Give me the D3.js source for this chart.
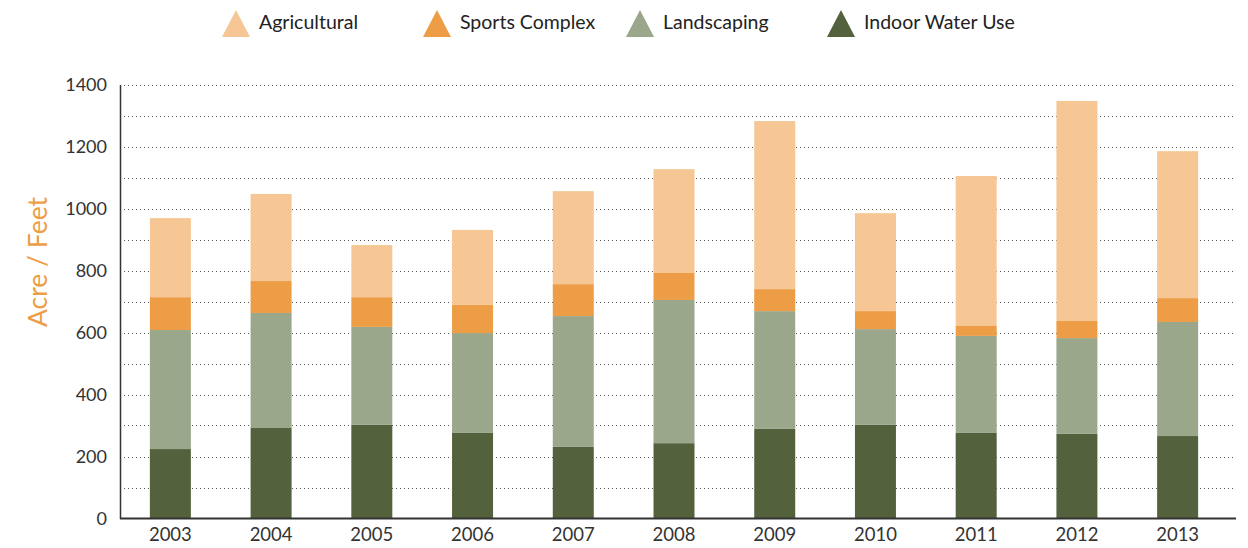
<!DOCTYPE html>
<html>
<head>
<meta charset="utf-8">
<script src="https://cdn.jsdelivr.net/npm/d3@7"></script>
<style>
  html, body { margin: 0; padding: 0; background: #fff; }
  svg { display: block; }
  text { font-family: Lato, "Open Sans", sans-serif; }
</style>
</head>
<body>
<svg id="chart" width="1248" height="548"></svg>
<script>
const years = ["2003","2004","2005","2006","2007","2008","2009","2010","2011","2012","2013"];
const indoorWaterUse = [224, 292, 302, 276, 231, 243, 289, 302, 276, 273, 266];
const landscaping    = [384, 371, 316, 322, 422, 462, 380, 309, 313, 309, 368];
const sportsComplex  = [106, 103,  96,  91, 103,  87,  71,  58,  32,  55,  77];
const agricultural   = [255, 281, 168, 242, 300, 335, 542, 316, 484, 710, 474];
const seriesNames  = ["Indoor Water Use", "Landscaping", "Sports Complex", "Agricultural"];
const legendOrder  = ["Agricultural", "Sports Complex", "Landscaping", "Indoor Water Use"];
const seriesColors = ["#53623D", "#9BA78B", "#EC9D46", "#F6C794"];
const yTicks = [0, 200, 400, 600, 800, 1000, 1200, 1400];
const gridValues = d3.range(100, 1401, 100);

(function () {
const svg = d3.select("#chart");
const mLeft = 120, mRight = 1236, mTop = 84.5, mBottom = 518.5;

const x = d3.scaleBand().domain(years).range([mLeft, 1228]).paddingInner(0.593).paddingOuter(0.2965);
const y = d3.scaleLinear().domain([0, 1400]).range([mBottom, mTop]);
const color = d3.scaleOrdinal().domain(seriesNames).range(seriesColors);

const table = years.map((yr, i) => ({
  year: yr,
  "Indoor Water Use": indoorWaterUse[i],
  "Landscaping": landscaping[i],
  "Sports Complex": sportsComplex[i],
  "Agricultural": agricultural[i]
}));
const stacked = d3.stack().keys(seriesNames)(table);

// gridlines
svg.append("g").selectAll("line").data(gridValues).join("line")
  .attr("x1", 124).attr("x2", mRight)
  .attr("y1", d => Math.round(y(d)) + 0.5).attr("y2", d => Math.round(y(d)) + 0.5)
  .attr("stroke", "#555").attr("stroke-width", 1)
  .attr("stroke-dasharray", "1,3");

// bars
svg.append("g").selectAll("g").data(stacked).join("g")
  .attr("fill", d => color(d.key))
  .selectAll("rect").data(d => d).join("rect")
  .attr("x", d => x(d.data.year))
  .attr("width", x.bandwidth())
  .attr("y", d => y(d[1]))
  .attr("height", d => y(d[0]) - y(d[1]));

// y axis
const yAxis = svg.append("g").attr("transform", `translate(${mLeft},0)`)
  .call(d3.axisLeft(y).tickValues(yTicks).tickFormat(d3.format("d")).tickSize(0).tickPadding(13));
yAxis.select(".domain").attr("stroke", "#333").attr("stroke-width", 1.5);
yAxis.selectAll("text").attr("font-size", 18).attr("fill", "#333")
  .style("font-family", "Lato, sans-serif");

// x axis
const xAxis = svg.append("g").attr("transform", `translate(0,${mBottom})`)
  .call(d3.axisBottom(x).tickSize(0).tickPadding(9));
xAxis.select(".domain").attr("d", `M${mLeft},0H${mRight}`).attr("stroke", "#333").attr("stroke-width", 2);
xAxis.selectAll("text").attr("font-size", 18.5).attr("fill", "#333")
  .style("font-family", "Lato, sans-serif");

// y title
svg.append("text")
  .attr("transform", `translate(47,262) rotate(-90)`)
  .attr("text-anchor", "middle")
  .attr("font-size", 26.5)
  .attr("fill", "#EC9D46")
  .text("Acre / Feet");

// legend
const legendX = [236, 437, 640, 841];
const lg = svg.append("g").selectAll("g").data(legendOrder).join("g")
  .attr("transform", (d, i) => `translate(${legendX[i]},0)`);
lg.append("path")
  .attr("d", "M-14,37L0,10L14,37Z")
  .attr("fill", d => color(d));
lg.append("text")
  .attr("x", 23).attr("y", 29)
  .attr("font-size", 19.5).attr("fill", "#222")
  .text(d => d);
})();
</script>
</body>
</html>
